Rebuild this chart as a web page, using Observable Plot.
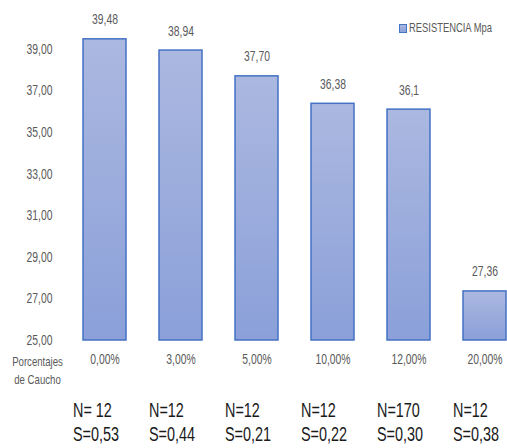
<!DOCTYPE html>
<html>
<head>
<meta charset="utf-8">
<script src="https://cdn.jsdelivr.net/npm/d3@7"></script>
<script src="https://cdn.jsdelivr.net/npm/@observablehq/plot@0.6"></script>
<style>
  html, body { margin: 0; padding: 0; overflow: hidden; background: #fff; }
  #wrap { position: relative; width: 507px; height: 448px; }
  #legend { position: absolute; left: 399px; top: 21px; font-family: "Liberation Sans", Arial, sans-serif; font-size: 12.7px; color: #595959; display: flex; align-items: center; white-space: nowrap; }
  #legend .sw { width: 6px; height: 7px; border: 1px solid #4472c4; background: linear-gradient(#abb8e0, #8ca1d9); margin-right: 2px; flex: none; }
  #legend #legendText { display: inline-block; transform: scaleX(0.74); transform-origin: 0 50%; }
</style>
</head>
<body>
<div id="wrap">
  <div id="chart"></div>
  <div id="legend"><span class="sw"></span><span id="legendText"></span></div>
</div>
<script>
const categories = ["0,00%", "3,00%", "5,00%", "10,00%", "12,00%", "20,00%"];
const values = [39.48, 38.94, 37.70, 36.38, 36.1, 27.36];
const valueLabels = ["39,48", "38,94", "37,70", "36,38", "36,1", "27,36"];
const nLabels = ["N= 12", "N=12", "N=12", "N=12", "N=170", "N=12"];
const sLabels = ["S=0,53", "S=0,44", "S=0,21", "S=0,22", "S=0,30", "S=0,38"];
const yTicks = [25, 27, 29, 31, 33, 35, 37, 39];
const yTickLabels = ["25,00", "27,00", "29,00", "31,00", "33,00", "35,00", "37,00", "39,00"];
const seriesName = "RESISTENCIA Mpa";
const xTitle = ["Porcentajes", "de Caucho"];

document.getElementById("legendText").textContent = seriesName;

const data = categories.map((c, i) => ({
  cat: c, value: values[i], label: valueLabels[i], n: nLabels[i], s: sLabels[i]
}));

const font = "'Liberation Sans', Arial, sans-serif";
const squeeze = 0.74;

function gradientDefs() {
  const ns = "http://www.w3.org/2000/svg";
  const defs = document.createElementNS(ns, "defs");
  const lg = document.createElementNS(ns, "linearGradient");
  lg.setAttribute("id", "barGrad");
  lg.setAttribute("x1", "0"); lg.setAttribute("y1", "0");
  lg.setAttribute("x2", "0"); lg.setAttribute("y2", "1");
  [["0%", "#abb8e0"], ["100%", "#8ba0d9"]].forEach(([o, c]) => {
    const st = document.createElementNS(ns, "stop");
    st.setAttribute("offset", o);
    st.setAttribute("stop-color", c);
    lg.appendChild(st);
  });
  defs.appendChild(lg);
  return defs;
}

const chart = Plot.plot({
  width: 507,
  height: 448,
  marginLeft: 63,
  marginRight: 0,
  marginTop: 0,
  marginBottom: 108,
  style: { fontFamily: font, fontSize: "14px", color: "#595959", background: "#fff", overflow: "hidden" },
  x: { domain: categories, range: [63.6, 524.4], paddingInner: 0.44, paddingOuter: 0.22, axis: null },
  y: { domain: [25, 40], range: [340, 28], axis: null },
  marks: [
    gradientDefs,
    Plot.axisY({
      ticks: yTicks,
      tickSize: 0,
      tickPadding: 11,
      tickFormat: d => yTickLabels[yTicks.indexOf(d)],
      fontSize: 14,
      fill: "#595959",
      label: null
    }),
    Plot.barY(data, {
      x: "cat", y1: 25, y2: "value",
      fill: "url(#barGrad)", stroke: "#4472c4", strokeWidth: 1.5
    }),
    Plot.ruleY([25], { x1: 63, x2: 507, stroke: "#d9d9d9", strokeWidth: 1.5 }),
    Plot.text(data, {
      x: "cat", y: "value", text: "label", dy: -19.5,
      fontSize: 14, fill: "#595959"
    }),
    Plot.text(data, {
      x: "cat", text: "cat", frameAnchor: "bottom", dy: 23,
      fontSize: 14, fill: "#595959"
    }),
    Plot.text([xTitle[0]], {
      text: d => d, frameAnchor: "bottom-left", dx: -26, dy: 25,
      textAnchor: "middle", fontSize: 13, fill: "#595959"
    }),
    Plot.text([xTitle[1]], {
      text: d => d, frameAnchor: "bottom-left", dx: -26, dy: 43,
      textAnchor: "middle", fontSize: 13, fill: "#595959"
    }),
    Plot.text(data, {
      x: "cat", text: "n", frameAnchor: "bottom", dy: 76, dx: -32,
      textAnchor: "start", fontSize: 19.5, fill: "#1a1a1a"
    }),
    Plot.text(data, {
      x: "cat", text: "s", frameAnchor: "bottom", dy: 100, dx: -32,
      textAnchor: "start", fontSize: 19.5, fill: "#1a1a1a"
    })
  ]
});

// Narrow the glyphs horizontally (the reference uses a condensed face)
chart.querySelectorAll("text").forEach(t => {
  let tr = t.getAttribute("transform") || "";
  const xa = t.getAttribute("x");
  if (xa != null && /^-?[\d.]+$/.test(xa.trim())) {
    t.removeAttribute("x");
    tr += ` translate(${+xa},0)`;
  }
  t.setAttribute("transform", `${tr} scale(${squeeze},1)`);
});

document.getElementById("chart").appendChild(chart);
</script>
</body>
</html>
